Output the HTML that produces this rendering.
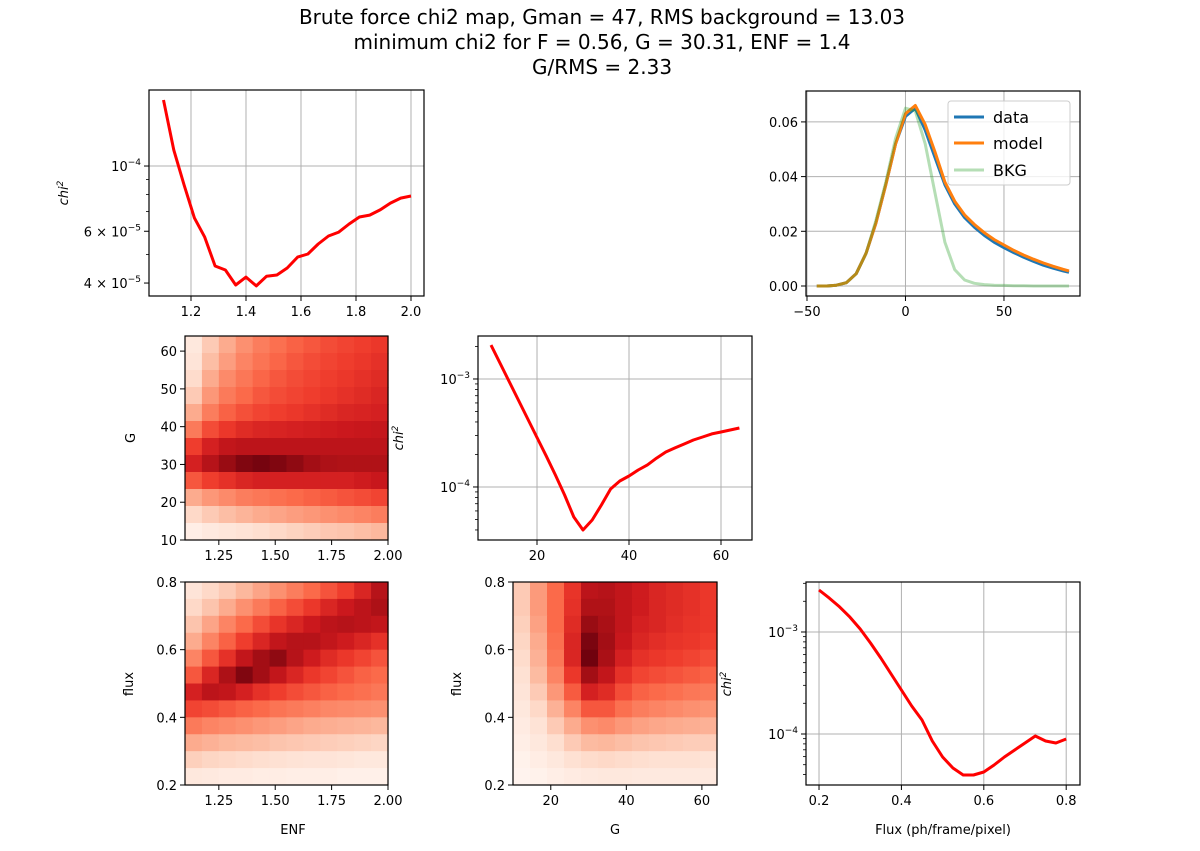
<!DOCTYPE html>
<html><head><meta charset="utf-8"><style>
html,body{margin:0;padding:0;background:#fff;}
svg text{font-family:"DejaVu Sans","Liberation Sans",sans-serif;fill:#000;}
</style></head><body>
<svg id="fig" width="1200" height="846" viewBox="0 0 1200 846" xmlns="http://www.w3.org/2000/svg">
<rect width="1200" height="846" fill="#fff"/>
<text x="602" y="24" font-size="20" text-anchor="middle">Brute force chi2 map, Gman = 47, RMS background = 13.03</text>
<text x="602" y="49" font-size="20" text-anchor="middle">minimum chi2 for F = 0.56, G = 30.31, ENF = 1.4</text>
<text x="602" y="74" font-size="20" text-anchor="middle">G/RMS = 2.33</text>
</svg>
<script>
// ---------- DATA ----------
const enfX = [1.1,1.1375,1.175,1.2125,1.25,1.2875,1.325,1.3625,1.4,1.4375,1.475,1.5125,1.55,1.5875,1.625,1.6625,1.7,1.7375,1.775,1.8125,1.85,1.8875,1.925,1.9625,2.0];
const enfChi2 = [1.677e-4,1.133e-4,0.862e-4,0.666e-4,0.573e-4,0.457e-4,0.443e-4,0.394e-4,0.419e-4,0.391e-4,0.422e-4,0.426e-4,0.450e-4,0.490e-4,0.502e-4,0.543e-4,0.578e-4,0.596e-4,0.635e-4,0.671e-4,0.681e-4,0.709e-4,0.748e-4,0.778e-4,0.791e-4];

const gX = [10,12,14,16,18,20,22,24,26,28,30,32,34,36,38,40,42,44,46,48,50,52,54,56,58,60,62,64];
const gChi2 = [2.06e-3,1.392e-3,9.38e-4,6.32e-4,4.26e-4,2.87e-4,1.94e-4,1.29e-4,0.843e-4,0.527e-4,0.40e-4,0.495e-4,0.681e-4,0.958e-4,1.137e-4,1.264e-4,1.437e-4,1.6e-4,1.85e-4,2.11e-4,2.30e-4,2.50e-4,2.72e-4,2.90e-4,3.10e-4,3.23e-4,3.37e-4,3.52e-4];

const fluxX = [0.2,0.225,0.25,0.275,0.3,0.325,0.35,0.375,0.4,0.425,0.45,0.475,0.5,0.525,0.55,0.575,0.6,0.625,0.65,0.675,0.7,0.725,0.75,0.775,0.8];
const fluxChi2 = [2.58e-3,2.15e-3,1.76e-3,1.40e-3,1.07e-3,7.80e-4,5.56e-4,3.87e-4,2.70e-4,1.88e-4,1.37e-4,0.854e-4,0.595e-4,0.464e-4,0.396e-4,0.396e-4,0.424e-4,0.497e-4,0.595e-4,0.697e-4,0.816e-4,0.956e-4,0.854e-4,0.816e-4,0.893e-4];

const profX = [-45,-40,-35,-30,-25,-20,-15,-10,-5,0,5,10,15,20,25,30,35,40,45,50,55,60,65,70,75,80,83];
const profData = [0,0,0.0003,0.0012,0.0045,0.012,0.023,0.037,0.052,0.062,0.065,0.057,0.047,0.037,0.030,0.025,0.0215,0.0185,0.016,0.014,0.0122,0.0105,0.009,0.0076,0.0065,0.0055,0.005];
const profModel = [0,0,0.0003,0.0012,0.0045,0.012,0.023,0.037,0.052,0.063,0.066,0.059,0.049,0.038,0.031,0.026,0.0225,0.0195,0.017,0.015,0.013,0.0113,0.0098,0.0084,0.0072,0.0061,0.0055];
const profBkg = [0,0,0.0003,0.0012,0.0045,0.012,0.024,0.038,0.054,0.065,0.064,0.052,0.034,0.016,0.006,0.0022,0.001,0.0005,0.0003,0.0002,0.0001,0.0001,0,0,0,0,0];

// heatmap intensity grids (0 = white .. 1 = darkest), rows top→bottom
const mapEnfG = [
[.08,.2,.3,.38,.44,.48,.52,.55,.58,.6,.62,.64],
[.1,.24,.34,.42,.47,.51,.55,.58,.6,.62,.64,.66],
[.14,.3,.4,.46,.51,.55,.58,.6,.62,.64,.66,.68],
[.2,.36,.45,.5,.55,.58,.6,.62,.64,.66,.68,.7],
[.3,.44,.52,.57,.6,.62,.64,.66,.68,.7,.71,.72],
[.45,.58,.64,.68,.7,.71,.72,.73,.74,.75,.76,.77],
[.62,.72,.78,.8,.8,.8,.8,.8,.8,.8,.8,.8],
[.72,.82,.9,.95,.97,.95,.92,.88,.85,.84,.84,.84],
[.55,.62,.66,.7,.72,.72,.72,.72,.72,.72,.74,.76],
[.3,.36,.4,.44,.46,.48,.5,.52,.54,.56,.58,.6],
[.15,.2,.24,.27,.3,.32,.34,.36,.38,.4,.42,.44],
[.04,.07,.09,.11,.13,.15,.17,.19,.21,.22,.24,.26]];
const mapEnfFlux = [
[.1,.15,.2,.26,.32,.38,.44,.5,.56,.62,.7,.82],
[.15,.22,.3,.38,.45,.52,.58,.64,.7,.75,.8,.85],
[.22,.32,.42,.5,.58,.65,.7,.75,.8,.82,.8,.78],
[.3,.42,.52,.62,.7,.78,.82,.82,.78,.74,.7,.66],
[.42,.55,.66,.78,.88,.92,.82,.74,.68,.64,.6,.56],
[.55,.7,.85,.95,.88,.78,.7,.64,.6,.56,.52,.5],
[.72,.8,.78,.72,.66,.62,.58,.55,.52,.5,.48,.46],
[.6,.58,.55,.52,.5,.47,.45,.43,.41,.4,.39,.38],
[.45,.42,.4,.38,.36,.34,.32,.3,.29,.28,.27,.26],
[.3,.28,.26,.25,.24,.22,.21,.2,.19,.18,.17,.16],
[.18,.16,.15,.14,.13,.12,.11,.1,.1,.09,.08,.08],
[.08,.07,.06,.06,.05,.05,.04,.04,.04,.03,.03,.03]];
const mapGFlux = [
[.2,.35,.5,.65,.8,.82,.78,.74,.7,.68,.66,.64],
[.2,.35,.5,.66,.84,.84,.78,.74,.7,.68,.66,.64],
[.18,.33,.5,.68,.9,.86,.78,.72,.7,.67,.65,.64],
[.16,.3,.48,.7,.96,.88,.76,.7,.67,.65,.64,.62],
[.14,.28,.46,.7,.98,.86,.72,.66,.64,.62,.6,.58],
[.12,.25,.42,.64,.88,.78,.66,.6,.58,.56,.54,.52],
[.1,.2,.36,.54,.72,.68,.58,.52,.5,.48,.46,.45],
[.08,.15,.28,.42,.55,.55,.48,.44,.42,.4,.38,.37],
[.06,.11,.2,.3,.38,.4,.36,.33,.31,.3,.29,.28],
[.04,.08,.13,.2,.25,.26,.24,.22,.21,.2,.19,.19],
[.02,.05,.08,.12,.14,.15,.14,.13,.12,.12,.12,.11],
[.01,.02,.04,.06,.07,.08,.08,.07,.07,.07,.07,.07]];

// ---------- HELPERS ----------
const NS='http://www.w3.org/2000/svg';
const svg=document.getElementById('fig');
function mk(tag,attrs,parent){const e=document.createElementNS(NS,tag);for(const k in attrs)e.setAttribute(k,attrs[k]);(parent||svg).appendChild(e);return e;}
function linScale(d0,d1,r0,r1){return v=>r0+(v-d0)/(d1-d0)*(r1-r0);}
function logScale(d0,d1,r0,r1){const a=Math.log10(d0),b=Math.log10(d1);return v=>r0+(Math.log10(v)-a)/(b-a)*(r1-r0);}
const REDS=[[255,245,240],[254,224,210],[252,187,161],[252,146,114],[251,106,74],[239,59,44],[203,24,29],[165,15,21],[103,0,13]];
function reds(t){t=Math.max(0,Math.min(1,t))*8;const i=Math.min(7,Math.floor(t)),f=t-i;const a=REDS[i],b=REDS[i+1];return 'rgb('+a.map((c,k)=>Math.round(c+(b[k]-c)*f)).join(',')+')';}

function frame(g,b){const r=mk('rect',{x:b.l,y:b.t,width:b.r-b.l,height:b.b-b.t,fill:'none',stroke:'#000','stroke-width':1.2},g);

}
function xTick(g,b,px,label,grid){
 if(grid){const gl=mk('line',{x1:px,x2:px,y1:b.t,y2:b.b,stroke:'#b0b0b0','stroke-width':1},g);}
 mk('line',{x1:px,x2:px,y1:b.b,y2:b.b+5,stroke:'#000','stroke-width':1},g);
 const t=mk('text',{x:px,y:b.b+20,'font-size':13,'text-anchor':'middle'},g);t.textContent=label;
 
 }
function yTick(g,b,py,label,grid,sup){
 if(grid){const gl=mk('line',{x1:b.l,x2:b.r,y1:py,y2:py,stroke:'#b0b0b0','stroke-width':1},g);}
 mk('line',{x1:b.l-5,x2:b.l,y1:py,y2:py,stroke:'#000','stroke-width':1},g);
 const t=mk('text',{x:b.l-8,y:py+5,'font-size':13,'text-anchor':'end'},g);
 if(sup){t.appendChild(document.createTextNode(label));const s=mk('tspan',{dy:-6,'font-size':9},t);s.textContent=sup;}
 else t.textContent=label;
 
 }
function yMinor(g,b,py){mk('line',{x1:b.l-3,x2:b.l,y1:py,y2:py,stroke:'#000','stroke-width':0.8},g);}
function chiLabel(g,x,y){const t=mk('text',{x:x,y:y,'font-size':13,'text-anchor':'middle','font-style':'italic',transform:'rotate(-90 '+x+' '+y+')'},g);
 t.appendChild(document.createTextNode('chi'));const s=mk('tspan',{dy:-5,'font-size':9},t);s.textContent='2';
 
 }
function rotLabel(g,x,y,txt){const t=mk('text',{x:x,y:y,'font-size':13,'text-anchor':'middle',transform:'rotate(-90 '+x+' '+y+')'},g);t.textContent=txt;
 
 }
function xLabel(g,x,y,txt){const t=mk('text',{x:x,y:y,'font-size':13,'text-anchor':'middle'},g);t.textContent=txt;
 
 }
function line(g,xs,ys,sx,sy,color,w,op,name){const d=xs.map((x,i)=>(i?'L':'M')+sx(x).toFixed(1)+','+sy(ys[i]).toFixed(1)).join('');
 const p=mk('path',{d:d,fill:'none',stroke:color,'stroke-width':w,'stroke-opacity':op||1,'stroke-linejoin':'round'},g);
 
 return p;}
function logTicks(g,b,sy,lo,hi,majors){
 for(let e=Math.floor(Math.log10(lo));e<=Math.ceil(Math.log10(hi));e++)for(let m=1;m<10;m++){const v=m*Math.pow(10,e);if(v<lo||v>hi)continue;const py=sy(v);
  if(m===1&&majors)yTick(g,b,py,'10',true,'−'+(-e));else yMinor(g,b,py);}}
function heat(g,b,grid,name){const rows=grid.length,cols=grid[0].length;const cw=(b.r-b.l)/cols,ch=(b.b-b.t)/rows;
 grid.forEach((row,i)=>row.forEach((v,j)=>{const c=mk('rect',{x:(b.l+j*cw).toFixed(2),y:(b.t+i*ch).toFixed(2),width:(cw+0.6).toFixed(2),height:(ch+0.6).toFixed(2),fill:reds(v)},g);
  
  }));}

// ---------- PANEL A: chi2 vs ENF ----------
(function(){const g=mk('g',{});
 const b={l:149,r:424,t:90,b:296};
 const sx=linScale(1.0473,2.0473,b.l,b.r), sy=logScale(Math.pow(10,-4.442),Math.pow(10,-3.7415),b.b,b.t);
 [1.2,1.4,1.6,1.8,2.0].forEach(v=>xTick(g,b,sx(v),v.toFixed(1),true));
 yTick(g,b,sy(1e-4),'10',true,'−4');
 yTick(g,b,sy(6e-5),'6 × 10',false,'−5');
 yTick(g,b,sy(4e-5),'4 × 10',false,'−5');
 [5e-5,7e-5,8e-5,9e-5].forEach(v=>yMinor(g,b,sy(v)));
 line(g,enfX,enfChi2,sx,sy,'#ff0000',3,1,'chi2-enf-line');
 frame(g,b); chiLabel(g,68,193);})();

// ---------- PANEL B: profile ----------
(function(){const g=mk('g',{});
 const b={l:806,r:1080,t:91,b:296};
 const sx=linScale(-50.5,88.6,b.l,b.r), sy=linScale(-0.00366,0.0713,b.b,b.t);
 [-50,0,50].forEach(v=>xTick(g,b,sx(v),v<0?'−'+(-v):String(v),true));
 [0,0.02,0.04,0.06].forEach(v=>yTick(g,b,sy(v),v.toFixed(2),true));
 line(g,profX,profData,sx,sy,'#1f77b4',3,1,'data-line');
 line(g,profX,profModel,sx,sy,'#ff7f0e',3,1,'model-line');
 line(g,profX,profBkg,sx,sy,'#2ca02c',3,0.35,'bkg-line');
 frame(g,b);
 const lg=mk('g',{},g);
 mk('rect',{x:948,y:101,width:122,height:84,rx:3,fill:'#fff','fill-opacity':0.8,stroke:'#ccc'},lg);
 [['data','#1f77b4',1,117],['model','#ff7f0e',1,143],['BKG','#2ca02c',0.35,170]].forEach(e=>{
  const it=mk('g',{},lg);
  mk('line',{x1:954,x2:984,y1:e[3],y2:e[3],stroke:e[1],'stroke-width':3,'stroke-opacity':e[2]},it);
  const t=mk('text',{x:993,y:e[3]+6,'font-size':16},it);t.textContent=e[0];});
})();

// ---------- PANEL C: heatmap ENF vs G ----------
(function(){const g=mk('g',{});
 const b={l:185,r:388,t:336,b:540};
 heat(g,b,mapEnfG,'enf-g');
 const sx=linScale(1.1,2.0,b.l,b.r), sy=linScale(10,64,b.b,b.t);
 [1.25,1.5,1.75,2.0].forEach(v=>xTick(g,b,sx(v),v.toFixed(2),false));
 [10,20,30,40,50,60].forEach(v=>yTick(g,b,sy(v),String(v),false));
 frame(g,b); rotLabel(g,135,438,'G');})();

// ---------- PANEL D: chi2 vs G ----------
(function(){const g=mk('g',{});
 const b={l:478,r:752,t:336,b:540};
 const lo=Math.pow(10,-4.491),hi=Math.pow(10,-2.602);
 const sx=linScale(7.17,66.74,b.l,b.r), sy=logScale(lo,hi,b.b,b.t);
 [20,40,60].forEach(v=>xTick(g,b,sx(v),String(v),true));
 logTicks(g,b,sy,lo,hi,true);
 line(g,gX,gChi2,sx,sy,'#ff0000',3,1,'chi2-g-line');
 frame(g,b); chiLabel(g,403,438);})();

// ---------- PANEL E: heatmap ENF vs flux ----------
(function(){const g=mk('g',{});
 const b={l:185,r:388,t:582,b:785};
 heat(g,b,mapEnfFlux,'enf-flux');
 const sx=linScale(1.1,2.0,b.l,b.r), sy=linScale(0.2,0.8,b.b,b.t);
 [1.25,1.5,1.75,2.0].forEach(v=>xTick(g,b,sx(v),v.toFixed(2),false));
 [0.2,0.4,0.6,0.8].forEach(v=>yTick(g,b,sy(v),v.toFixed(1),false));
 frame(g,b); rotLabel(g,133,684,'flux'); xLabel(g,293,834,'ENF');})();

// ---------- PANEL F: heatmap G vs flux ----------
(function(){const g=mk('g',{});
 const b={l:513,r:717,t:582,b:785};
 heat(g,b,mapGFlux,'g-flux');
 const sx=linScale(10,64,b.l,b.r), sy=linScale(0.2,0.8,b.b,b.t);
 [20,40,60].forEach(v=>xTick(g,b,sx(v),String(v),false));
 [0.2,0.4,0.6,0.8].forEach(v=>yTick(g,b,sy(v),v.toFixed(1),false));
 frame(g,b); rotLabel(g,461,684,'flux'); xLabel(g,615,834,'G');})();

// ---------- PANEL G: chi2 vs flux ----------
(function(){const g=mk('g',{});
 const b={l:806,r:1080,t:582,b:785};
 const lo=Math.pow(10,-4.5),hi=Math.pow(10,-2.51);
 const sx=linScale(0.1684,0.8335,b.l,b.r), sy=logScale(lo,hi,b.b,b.t);
 [0.2,0.4,0.6,0.8].forEach(v=>xTick(g,b,sx(v),v.toFixed(1),true));
 logTicks(g,b,sy,lo,hi,true);
 line(g,fluxX,fluxChi2,sx,sy,'#ff0000',3,1,'chi2-flux-line');
 frame(g,b); chiLabel(g,731,684); xLabel(g,943,834,'Flux (ph/frame/pixel)');})();
</script>
</body></html>
